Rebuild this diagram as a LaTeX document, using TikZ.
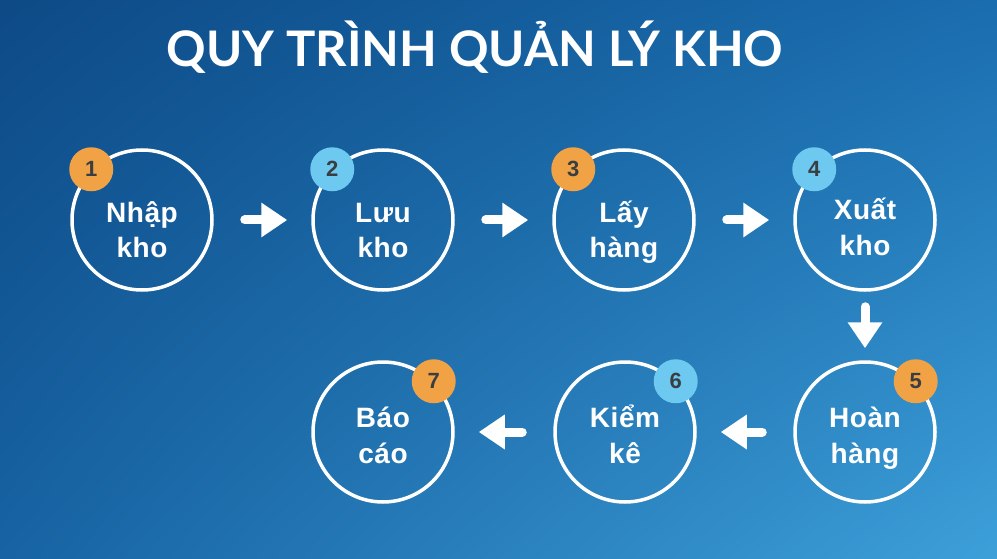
\documentclass[tikz,border=0pt]{standalone}
\usepackage{fontspec}
\setmainfont{Liberation Sans}
\newfontfamily\titlefont{Lato}
\usetikzlibrary{arrows.meta,shadings}
\definecolor{bgdark}{HTML}{0D4A86}
\definecolor{bgmid}{HTML}{1A6DAF}
\definecolor{bglow}{HTML}{1763A3}
\definecolor{bglight}{HTML}{3DA0D9}
\definecolor{badgeorange}{HTML}{F0A244}
\definecolor{badgeblue}{HTML}{6DC9EF}
\definecolor{numgray}{HTML}{3A3D42}

\begin{document}
\begin{tikzpicture}[x=1pt,y=-1pt,
  stepnode/.style={circle,draw=white,line width=3.5pt,minimum size=140pt,
    align=center,text=white,text height=#1,text depth=0pt,
    font=\fontsize{28}{35.5}\selectfont\bfseries\addfontfeature{LetterSpace=2}},
  stepnode/.default=76pt,
  badge/.style={circle,fill=#1,minimum size=44pt,inner sep=0pt,text=numgray,
    font=\fontsize{22}{22}\selectfont\bfseries},
  flow/.style={white,line width=9pt,line cap=round,line join=round,
    -{Triangle[length=26pt,width=33pt]}},
  flowh/.style={flow,shorten <=31pt,shorten >=24pt},
  flowv/.style={flow,shorten <=15pt,shorten >=12pt}]
% background
\shade[upper left=bgdark,upper right=bgmid,lower left=bglow,lower right=bglight]
  (0,0) rectangle (997,559);
% title
\node[text=white,font=\titlefont\fontsize{49}{49}\selectfont\bfseries] (title) at (475,47)
  {QUY TRÌNH QUẢN LÝ KHO};
% steps
\node[stepnode] (nhap) at (142,220) {Nhập\\kho};
\node[stepnode] (luu) at (383,220) {Lưu\\kho};
\node[stepnode] (lay) at (624,220) {Lấy\\hàng};
\node[stepnode=70pt] (xuat) at (865,220) {Xuất\\kho};
\node[stepnode=62pt] (hoan) at (865,432) {Hoàn\\hàng};
\node[stepnode=62pt] (kiem) at (625,432) {Kiểm\\kê};
\node[stepnode=62pt] (bao) at (383,432) {Báo\\cáo};
% numbers
\node[badge=badgeorange] (b1) at (nhap.north west) {1};
\node[badge=badgeblue] (b2) at (luu.north west) {2};
\node[badge=badgeorange] (b3) at (lay.north west) {3};
\node[badge=badgeblue] (b4) at (xuat.north west) {4};
\node[badge=badgeorange] (b5) at (hoan.north east) {5};
\node[badge=badgeblue] (b6) at (kiem.north east) {6};
\node[badge=badgeorange] (b7) at (bao.north east) {7};
% arrows
\draw[flowh] (nhap) -- (luu);
\draw[flowh] (luu) -- (lay);
\draw[flowh] (lay) -- (xuat);
\draw[flowv] (xuat) -- (hoan);
\draw[flowh] (hoan) -- (kiem);
\draw[flowh] (kiem) -- (bao);
\end{tikzpicture}
\end{document}
